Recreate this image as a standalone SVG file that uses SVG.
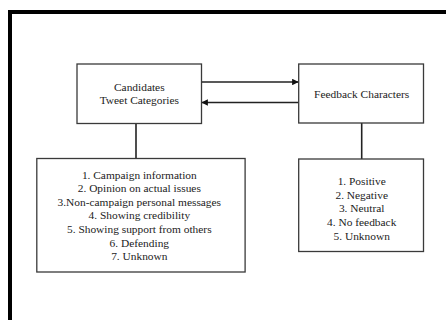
<svg xmlns="http://www.w3.org/2000/svg" width="446" height="320" viewBox="0 0 446 320">
<defs>
<style>
.box{fill:#fff;stroke:#3a3a3a;stroke-width:1.3}
.ln{fill:none;stroke:#222;stroke-width:1.6}
text{font-family:'Liberation Serif','DejaVu Serif',serif;font-size:11.4px;fill:#222;text-anchor:middle}
</style>
<marker id="ah" viewBox="0 0 10 10" refX="9" refY="5" markerWidth="6.5" markerHeight="6.5" orient="auto" markerUnits="userSpaceOnUse"><path d="M0,0 L10,5 L0,10 z" fill="#111"/></marker>
</defs>
<rect width="446" height="320" fill="#fff"/>
<path d="M10,322 V12 H448" fill="none" stroke="#000" stroke-width="4"/>
<g id="connectors">
<line class="ln" x1="201.5" y1="82" x2="298" y2="82" marker-end="url(#ah)"/>
<line class="ln" x1="298.5" y1="102.5" x2="202" y2="102.5" marker-end="url(#ah)"/>
<line class="ln" x1="136" y1="123.5" x2="136" y2="158.5"/>
<line class="ln" x1="361.7" y1="123" x2="361.7" y2="159"/>
</g>
<g id="tweet-categories" font-family="Liberation Serif, serif">
<rect class="box" x="77" y="64" width="124.5" height="59.5"/>
<text x="139.3" y="90.8">Candidates</text>
<text x="139.3" y="104.3">Tweet Categories</text>
</g>
<g id="feedback-characters">
<rect class="box" x="298.7" y="64" width="124.8" height="59"/>
<text x="361.7" y="97.5">Feedback Characters</text>
</g>
<g id="tweet-list">
<rect class="box" x="36.8" y="158.5" width="208.3" height="113.5"/>
<text x="139.3" y="178.6">1. Campaign information</text>
<text x="139.3" y="192.2">2. Opinion on actual issues</text>
<text x="139.3" y="205.8">3.Non-campaign personal messages</text>
<text x="139.3" y="219.4">4. Showing credibility</text>
<text x="139.3" y="233">5. Showing support from others</text>
<text x="139.3" y="246.6">6. Defending</text>
<text x="139.3" y="260.2">7. Unknown</text>
</g>
<g id="feedback-list">
<rect class="box" x="298.7" y="159" width="124.8" height="92.5"/>
<text x="361.7" y="185.2">1. Positive</text>
<text x="361.7" y="198.8">2. Negative</text>
<text x="361.7" y="212.4">3. Neutral</text>
<text x="361.7" y="226">4. No feedback</text>
<text x="361.7" y="239.6">5. Unknown</text>
</g>
</svg>
